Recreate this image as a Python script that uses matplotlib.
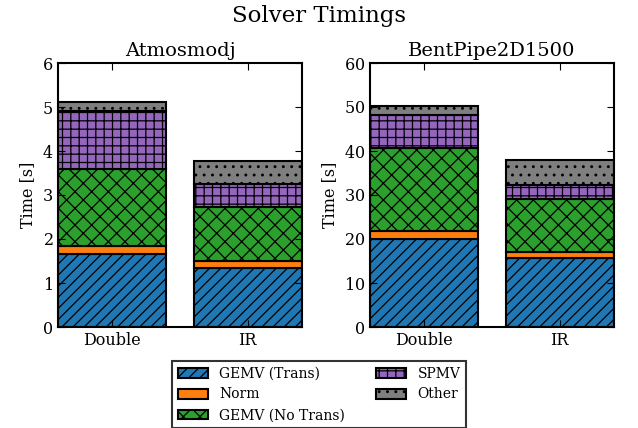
import matplotlib
matplotlib.use('Agg')
import matplotlib.pyplot as plt
import numpy as np

plt.rcParams['font.family'] = ['DejaVu Serif']
plt.rcParams['axes.formatter.use_mathtext'] = True
plt.rcParams['hatch.linewidth'] = 0.9

solvers = ['Double', 'IR']
parts = ['GEMV (Trans)', 'Norm', 'GEMV (No Trans)', 'SPMV', 'Other']
colors = ['#1f77b4', '#ff7f0e', '#2ca02c', '#9467bd', '#7f7f7f']
hatches = ['///', '', 'xx', '++', '..']

# seconds per part, [Double, IR]
atmos = {
    'GEMV (Trans)': [1.65, 1.33],
    'Norm': [0.20, 0.17],
    'GEMV (No Trans)': [1.75, 1.22],
    'SPMV': [1.30, 0.53],
    'Other': [0.22, 0.52],
}
bentpipe = {
    'GEMV (Trans)': [20.0, 15.6],
    'Norm': [1.8, 1.5],
    'GEMV (No Trans)': [18.9, 12.1],
    'SPMV': [7.5, 3.0],
    'Other': [2.1, 5.7],
}

fig = plt.figure(figsize=(6.38, 4.28), dpi=100)
ax1 = fig.add_axes([58/638, 1-327/428, 244/638, 264/428])
ax2 = fig.add_axes([370/638, 1-327/428, 244/638, 264/428])

x = np.arange(len(solvers))
for ax, data, name, ymax in [(ax1, atmos, 'Atmosmodj', 6), (ax2, bentpipe, 'BentPipe2D1500', 60)]:
    bottom = np.zeros(len(solvers))
    for p, c, h in zip(parts, colors, hatches):
        v = np.array(data[p])
        ax.bar(x, v, 0.8, bottom=bottom, color=c, hatch=h, edgecolor='black',
               linewidth=1.5, label=p)
        bottom += v
    ax.set_xlim(-0.4, 1.4)
    ax.set_ylim(0, ymax)
    ax.set_xticks(x)
    ax.set_xticklabels(solvers, fontsize=11.5)
    ax.tick_params(axis='y', labelsize=11.5)
    ax.tick_params(direction='in', top=True, right=True, length=5)
    ax.set_ylabel('Time [s]', fontsize=11.5)
    ax.set_title(name, fontsize=14, pad=5)
    for s in ax.spines.values():
        s.set_linewidth(1.5)

fig.suptitle('Solver Timings', fontsize=16.5, y=1-5/428, va='top')
handles, labels = ax1.get_legend_handles_labels()
leg = fig.legend(handles, labels, loc='upper center', bbox_to_anchor=(0.5, 1-361/428),
                 ncol=2, fontsize=10, frameon=True, fancybox=False, edgecolor='black',
                 columnspacing=2.2, handlelength=2.2, borderaxespad=0)
leg.get_frame().set_linewidth(1.5)

fig.savefig('out.png', dpi=100)
